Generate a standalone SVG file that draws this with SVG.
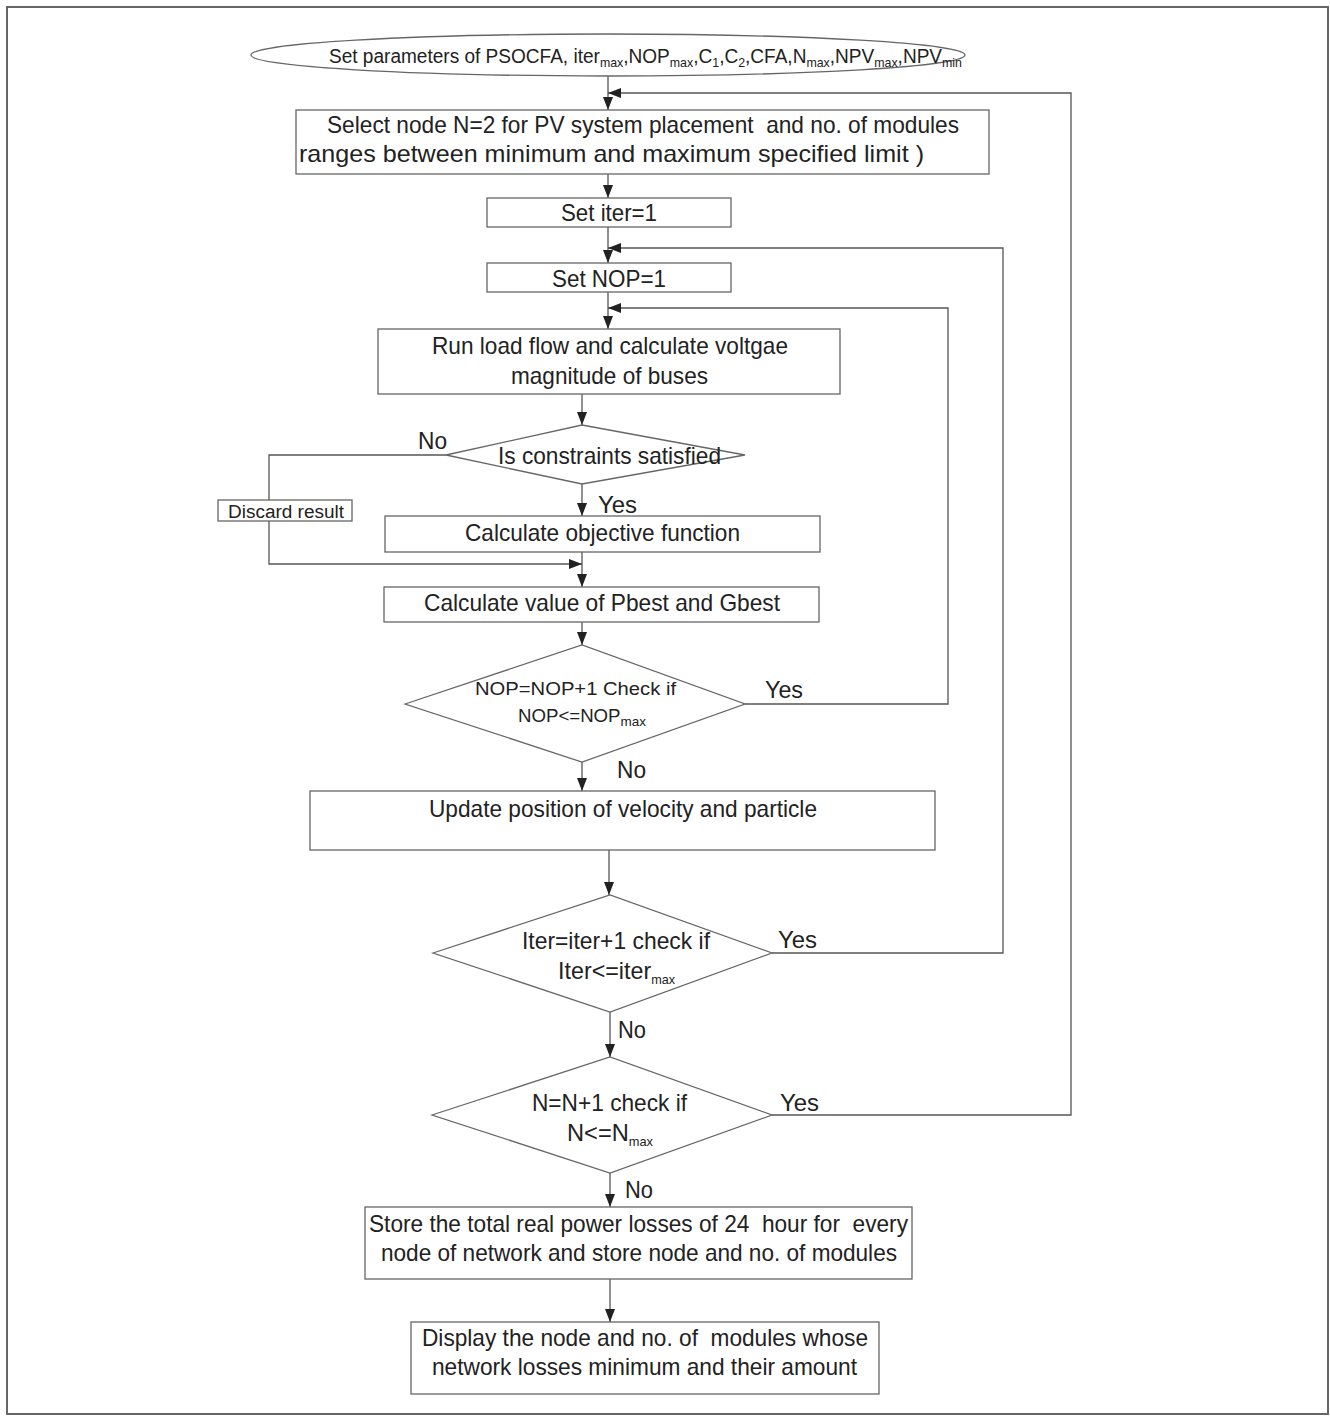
<svg xmlns="http://www.w3.org/2000/svg" width="1330" height="1416" viewBox="0 0 1330 1416">
<style>
text{font-family:"Liberation Sans",Arial,sans-serif;fill:#222;}
.t{font-size:24px;}
.s{font-size:18px;}
.e{font-size:20px;}
.sub{font-size:13px;}
.box{fill:#fff;stroke:#666;stroke-width:1.3;}
.ln{fill:none;stroke:#555;stroke-width:1.3;}
</style>
<defs>
<marker id="ah" markerUnits="userSpaceOnUse" markerWidth="13" markerHeight="11" refX="13" refY="5" orient="auto">
<path d="M0,0 L13,5 L0,10 z" fill="#222"/>
</marker>
</defs>
<rect x="0" y="0" width="1330" height="1416" fill="#fff"/>
<rect x="7" y="7" width="1321" height="1407" fill="none" stroke="#666" stroke-width="2"/>

<g id="connectors">
<path class="ln" d="M608,76 V110" marker-end="url(#ah)"/>
<path class="ln" d="M608,174 V198" marker-end="url(#ah)"/>
<path class="ln" d="M608,227 V263" marker-end="url(#ah)"/>
<path class="ln" d="M608,292 V329" marker-end="url(#ah)"/>
<path class="ln" d="M582,394 V425" marker-end="url(#ah)"/>
<path class="ln" d="M582,484 V516" marker-end="url(#ah)"/>
<path class="ln" d="M582,552 V587" marker-end="url(#ah)"/>
<path class="ln" d="M446,455 H269 V564 H582" marker-end="url(#ah)"/>
<path class="ln" d="M582,622 V645" marker-end="url(#ah)"/>
<path class="ln" d="M582,762 V791" marker-end="url(#ah)"/>
<path class="ln" d="M609,850 V895" marker-end="url(#ah)"/>
<path class="ln" d="M610,1012 V1057" marker-end="url(#ah)"/>
<path class="ln" d="M610,1173 V1207" marker-end="url(#ah)"/>
<path class="ln" d="M610,1279 V1322" marker-end="url(#ah)"/>
<path class="ln" d="M745,704 H948 V308 H608" marker-end="url(#ah)"/>
<path class="ln" d="M772,953 H1003 V248 H608" marker-end="url(#ah)"/>
<path class="ln" d="M772,1115 H1071 V93 H608" marker-end="url(#ah)"/>
</g>

<g id="start">
<ellipse class="box" cx="608" cy="55" rx="357" ry="21"/>
<text class="e" x="329" y="63" textLength="633" lengthAdjust="spacingAndGlyphs">Set parameters of PSOCFA, iter<tspan class="sub" dy="4">max</tspan><tspan dy="-4">,NOP</tspan><tspan class="sub" dy="4">max</tspan><tspan dy="-4">,C</tspan><tspan class="sub" dy="4">1</tspan><tspan dy="-4">,C</tspan><tspan class="sub" dy="4">2</tspan><tspan dy="-4">,CFA,N</tspan><tspan class="sub" dy="4">max</tspan><tspan dy="-4">,NPV</tspan><tspan class="sub" dy="4">max</tspan><tspan dy="-4">,NPV</tspan><tspan class="sub" dy="4">min</tspan></text>
</g>

<g id="select-node">
<rect class="box" x="296" y="110" width="693" height="64"/>
<text class="t" x="327" y="133" xml:space="preserve" textLength="632" lengthAdjust="spacingAndGlyphs">Select node N=2 for PV system placement  and no. of modules</text>
<text class="t" x="299" y="162" textLength="625" lengthAdjust="spacingAndGlyphs">ranges between minimum and maximum specified limit )</text>
</g>

<g id="set-iter">
<rect class="box" x="487" y="198" width="244" height="29"/>
<text class="t" x="561" y="221" textLength="96" lengthAdjust="spacingAndGlyphs">Set iter=1</text>
</g>

<g id="set-nop">
<rect class="box" x="487" y="263" width="244" height="29"/>
<text class="t" x="552" y="287" textLength="114" lengthAdjust="spacingAndGlyphs">Set NOP=1</text>
</g>

<g id="load-flow">
<rect class="box" x="378" y="329" width="462" height="65"/>
<text class="t" x="432" y="354" textLength="356" lengthAdjust="spacingAndGlyphs">Run load flow and calculate voltgae</text>
<text class="t" x="511" y="384" textLength="197" lengthAdjust="spacingAndGlyphs">magnitude of buses</text>
</g>

<g id="constraints">
<polygon class="box" points="446,455 582,425 745,455 582,484"/>
<text class="t" x="498" y="464" textLength="223" lengthAdjust="spacingAndGlyphs">Is constraints satisfied</text>
<text class="t" x="418" y="449" textLength="29" lengthAdjust="spacingAndGlyphs">No</text>
<text class="t" x="598" y="513" textLength="39" lengthAdjust="spacingAndGlyphs">Yes</text>
</g>

<g id="discard">
<rect class="box" x="218" y="500" width="134" height="21"/>
<text class="s" x="228" y="518" textLength="116" lengthAdjust="spacingAndGlyphs">Discard result</text>
</g>

<g id="objective">
<rect class="box" x="385" y="516" width="435" height="36"/>
<text class="t" x="465" y="541" textLength="275" lengthAdjust="spacingAndGlyphs">Calculate objective function</text>
</g>

<g id="pbest">
<rect class="box" x="384" y="587" width="435" height="35"/>
<text class="t" x="424" y="611" textLength="356" lengthAdjust="spacingAndGlyphs">Calculate value of Pbest and Gbest</text>
</g>

<g id="nop-check">
<polygon class="box" points="405,704 582,645 745,704 582,762"/>
<text class="s" x="475" y="695" textLength="201" lengthAdjust="spacingAndGlyphs">NOP=NOP+1 Check if</text>
<text class="s" x="518" y="722" textLength="128" lengthAdjust="spacingAndGlyphs">NOP&lt;=NOP<tspan class="sub" dy="4">max</tspan></text>
<text class="t" x="765" y="698" textLength="38" lengthAdjust="spacingAndGlyphs">Yes</text>
<text class="t" x="617" y="778" textLength="29" lengthAdjust="spacingAndGlyphs">No</text>
</g>

<g id="update">
<rect class="box" x="310" y="791" width="625" height="59"/>
<text class="t" x="429" y="817" textLength="388" lengthAdjust="spacingAndGlyphs">Update position of velocity and particle</text>
</g>

<g id="iter-check">
<polygon class="box" points="433,953 610,895 772,953 610,1012"/>
<text class="t" x="522" y="949" textLength="188" lengthAdjust="spacingAndGlyphs">Iter=iter+1 check if</text>
<text class="t" x="558" y="979" textLength="117" lengthAdjust="spacingAndGlyphs">Iter&lt;=iter<tspan class="sub" font-size="15" dy="5">max</tspan></text>
<text class="t" x="778" y="948" textLength="39" lengthAdjust="spacingAndGlyphs">Yes</text>
<text class="t" x="618" y="1038" textLength="28" lengthAdjust="spacingAndGlyphs">No</text>
</g>

<g id="n-check">
<polygon class="box" points="432,1115 610,1057 772,1115 610,1173"/>
<text class="t" x="532" y="1111" textLength="155" lengthAdjust="spacingAndGlyphs">N=N+1 check if</text>
<text class="t" x="567" y="1141" textLength="86" lengthAdjust="spacingAndGlyphs">N&lt;=N<tspan class="sub" font-size="15" dy="5">max</tspan></text>
<text class="t" x="780" y="1111" textLength="39" lengthAdjust="spacingAndGlyphs">Yes</text>
<text class="t" x="625" y="1198" textLength="28" lengthAdjust="spacingAndGlyphs">No</text>
</g>

<g id="store">
<rect class="box" x="365" y="1207" width="547" height="72"/>
<text class="t" x="369" y="1232" xml:space="preserve" textLength="539" lengthAdjust="spacingAndGlyphs">Store the total real power losses of 24  hour for  every</text>
<text class="t" x="381" y="1261" textLength="516" lengthAdjust="spacingAndGlyphs">node of network and store node and no. of modules</text>
</g>

<g id="display">
<rect class="box" x="411" y="1322" width="468" height="72"/>
<text class="t" x="422" y="1346" xml:space="preserve" textLength="446" lengthAdjust="spacingAndGlyphs">Display the node and no. of  modules whose</text>
<text class="t" x="432" y="1375" textLength="425" lengthAdjust="spacingAndGlyphs">network losses minimum and their amount</text>
</g>
</svg>
